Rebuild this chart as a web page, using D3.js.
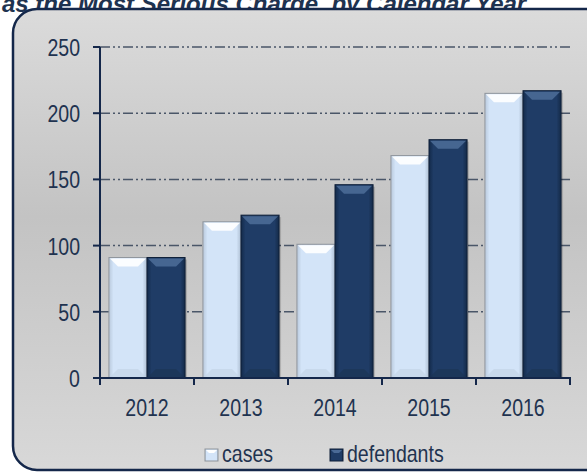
<!DOCTYPE html>
<html>
<head>
<meta charset="utf-8">
<script src="https://d3js.org/d3.v7.min.js"></script>
<style>
  body { margin: 0; background: #fff; }
  text { font-family: "Liberation Sans", Arial, sans-serif; fill: #1f3350; }
</style>
</head>
<body>
<script>
var years = ['2012', '2013', '2014', '2015', '2016'];
var cases = [91, 118, 101, 168, 215];
var defendants = [91, 123, 146, 180, 217];
var seriesNames = ['cases', 'defendants'];
var yTicks = [0, 50, 100, 150, 200, 250];

var w = 587, h = 473;
var svg = d3.select('body').append('svg').attr('width', w).attr('height', h);
var defs = svg.append('defs');

// condensed look: squeeze text horizontally
var squeeze = 0.85;
function narrow(sel, x, y) {
  return sel.attr('transform', 'translate(' + x + ',' + y + ') scale(' + squeeze + ',1)');
}

// panel background gradient
var bg = defs.append('linearGradient').attr('id', 'bg').attr('x1', 0).attr('y1', 0).attr('x2', 0).attr('y2', 1);
bg.append('stop').attr('offset', '0%').attr('stop-color', '#dbdbdb');
bg.append('stop').attr('offset', '45%').attr('stop-color', '#c3c3c3');
bg.append('stop').attr('offset', '100%').attr('stop-color', '#d8d8d8');

// bar gradients
var g1 = defs.append('linearGradient').attr('id', 'gCases').attr('x1', 0).attr('x2', 1);
g1.append('stop').attr('offset', '0%').attr('stop-color', '#b9c9dc');
g1.append('stop').attr('offset', '12%').attr('stop-color', '#d3e4f8');
g1.append('stop').attr('offset', '88%').attr('stop-color', '#d3e4f8');
g1.append('stop').attr('offset', '100%').attr('stop-color', '#aebfd3');
var g2 = defs.append('linearGradient').attr('id', 'gDef').attr('x1', 0).attr('x2', 1);
g2.append('stop').attr('offset', '0%').attr('stop-color', '#132a4a');
g2.append('stop').attr('offset', '12%').attr('stop-color', '#1f3c66');
g2.append('stop').attr('offset', '88%').attr('stop-color', '#1f3c66');
g2.append('stop').attr('offset', '100%').attr('stop-color', '#142a48');

var fills = ['url(#gCases)', 'url(#gDef)'];
var tops = ['#ffffff', '#4a6a96'];
var edges = ['#8f959c', '#0f1f38'];

// title, cut off at top like the source
svg.append('text')
  .attr('x', 2).attr('y', 12)
  .style('font-weight', 'bold').style('font-style', 'italic')
  .style('font-size', '24px')
  .text('as the Most Serious Charge, by Calendar Year');

// panel
svg.append('rect')
  .attr('x', 13).attr('y', 9).attr('width', 598).attr('height', 461)
  .attr('rx', 24).attr('ry', 24)
  .attr('fill', 'url(#bg)').attr('stroke', '#14274a').attr('stroke-width', 2.5);

var x0 = d3.scaleBand().domain(years).range([100, 570]).paddingInner(0.19).paddingOuter(0.095);
var x1 = d3.scaleBand().domain(seriesNames).range([0, x0.bandwidth()]);
var y = d3.scaleLinear().domain([0, 250]).range([378, 47]);

// gridlines
svg.append('g').selectAll('line').data(yTicks.filter(function(d) { return d > 0; })).enter().append('line')
  .attr('x1', 100).attr('x2', 570)
  .attr('y1', function(d) { return y(d); }).attr('y2', function(d) { return y(d); })
  .attr('stroke', '#4a5668').attr('stroke-width', 1.5)
  .attr('stroke-dasharray', '10,3,2,3,2,3');

// bars
var groups = svg.append('g').selectAll('g').data(years).enter().append('g')
  .attr('transform', function(d) { return 'translate(' + x0(d) + ',0)'; });

groups.each(function(yr, i) {
  var g = d3.select(this);
  [cases[i], defendants[i]].forEach(function(v, s) {
    var bx = x1(seriesNames[s]), bw = x1.bandwidth();
    var by = y(v), bh = y(0) - y(v);
    // shadow
    g.append('rect').attr('x', bx + 2).attr('y', by + 2).attr('width', bw).attr('height', bh - 2)
      .attr('fill', '#000').attr('opacity', 0.15);
    g.append('rect').attr('x', bx).attr('y', by).attr('width', bw).attr('height', bh)
      .attr('fill', fills[s]).attr('stroke', edges[s]).attr('stroke-width', 1);
    // top bevel highlight
    var b = 9;
    g.append('polygon')
      .attr('points', [[bx + 1, by + 1], [bx + bw - 1, by + 1], [bx + bw - b, by + b], [bx + b, by + b]].join(' '))
      .attr('fill', tops[s]).attr('opacity', 0.9);
    // bottom bevel shade
    g.append('polygon')
      .attr('points', [[bx + 1, by + bh - 1], [bx + bw - 1, by + bh - 1], [bx + bw - b, by + bh - b], [bx + b, by + bh - b]].join(' '))
      .attr('fill', s === 0 ? '#c2d2e4' : '#1a3352').attr('opacity', 0.6);
  });
});

// y axis
var axisColor = '#14274a';
svg.append('line').attr('x1', 100).attr('x2', 100).attr('y1', 47).attr('y2', 385)
  .attr('stroke', axisColor).attr('stroke-width', 2);
svg.append('g').selectAll('line').data(yTicks).enter().append('line')
  .attr('x1', 93).attr('x2', 100)
  .attr('y1', function(d) { return y(d); }).attr('y2', function(d) { return y(d); })
  .attr('stroke', axisColor).attr('stroke-width', 2);
svg.append('g').selectAll('text').data(yTicks).enter().append('text')
  .each(function(d) { narrow(d3.select(this), 80, y(d) + 9); })
  .attr('text-anchor', 'end').style('font-size', '23px')
  .text(function(d) { return d; });

// x axis
svg.append('line').attr('x1', 93).attr('x2', 571).attr('y1', 378).attr('y2', 378)
  .attr('stroke', axisColor).attr('stroke-width', 2);
var bounds = [100].concat(years.map(function(d) { return x0(d) + x0.bandwidth() + x0.step() * x0.paddingInner() / 2; }));
svg.append('g').selectAll('line').data(bounds).enter().append('line')
  .attr('x1', function(d) { return d; }).attr('x2', function(d) { return d; })
  .attr('y1', 378).attr('y2', 385)
  .attr('stroke', axisColor).attr('stroke-width', 2);
svg.append('g').selectAll('text').data(years).enter().append('text')
  .each(function(d) { narrow(d3.select(this), x0(d) + x0.bandwidth() / 2, 416); })
  .attr('text-anchor', 'middle').style('font-size', '23px')
  .text(function(d) { return d; });

// legend
var legX = [205, 330];
var leg = svg.append('g').selectAll('g').data(seriesNames).enter().append('g')
  .attr('transform', function(d, i) { return 'translate(' + legX[i] + ',449)'; });
leg.append('rect').attr('width', 13).attr('height', 12)
  .attr('fill', function(d, i) { return fills[i]; })
  .attr('stroke', function(d, i) { return edges[i]; });
leg.append('polygon').attr('points', '1,1 12,1 9,4 4,4')
  .attr('fill', function(d, i) { return tops[i]; });
leg.append('text')
  .each(function() { narrow(d3.select(this), 17, 13); })
  .style('font-size', '23px')
  .text(function(d) { return d; });
</script>
</body>
</html>
